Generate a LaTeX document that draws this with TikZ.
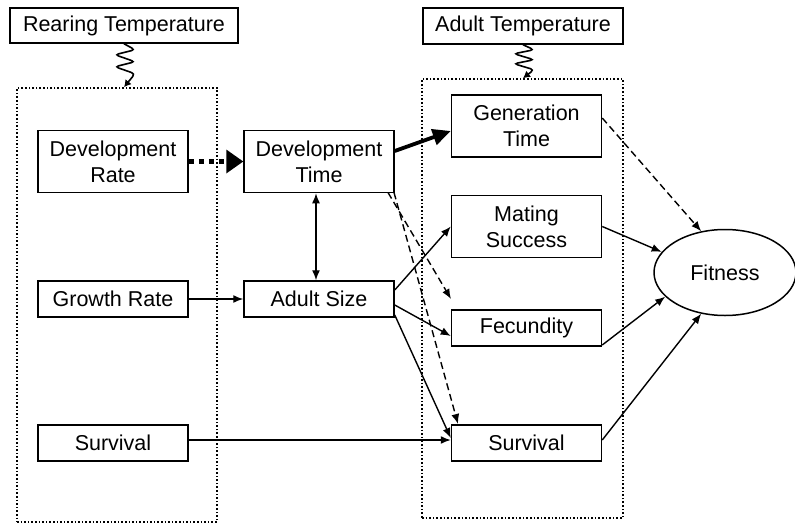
\documentclass[tikz,border=0pt]{standalone}
\usepackage{fontspec}
\setmainfont{Liberation Sans}
\usetikzlibrary{arrows.meta,shapes.geometric}
\begin{document}
\begin{tikzpicture}[x=1pt,y=-1pt,
  box/.style={draw,line width=1.5pt,minimum width=150pt,align=center,inner sep=0pt,
    font=\fontsize{21.5}{26}\selectfont},
  tbox/.style={box,minimum height=62pt},
  sbox/.style={box,minimum height=36pt},
  region/.style={draw,dotted,line width=1.6pt},
  arr/.style={-{Latex[length=10pt,width=8pt]},line width=1.4pt},
  darr/.style={arr,dash pattern=on 7pt off 4pt},
  coil/.style={-{Latex[length=7pt,width=8pt]},line width=1.6pt,rounded corners=3.5pt}]
\useasboundingbox (0,0) rectangle (795,525);
% regions
\node[region,minimum width=200pt,minimum height=434pt,inner sep=0pt] (L) at (117,305) {};
\node[region,minimum width=201pt,minimum height=439pt,inner sep=0pt] (R) at (522.5,298.5) {};
% temperatures
\node[box,minimum width=228pt,minimum height=35pt] (RT) at (124,25.5) {Rearing Temperature};
\node[box,minimum width=200pt,minimum height=36pt] (AT) at (523,26) {Adult Temperature};
\draw[coil] (RT.south) -- ++(11,6) -- ++(-20,5) -- ++(20,7) -- ++(-20,5) -- ++(20,7) -- (RT.south |- L.north);
\draw[coil] (AT.south) -- ++(11,5) -- ++(-20,4) -- ++(20,6) -- ++(-20,4) -- ++(20,6) -- (AT.south |- R.north);
% nodes
\node[tbox] (DR) at (113,161.5) {Development\\Rate};
\node[tbox] (DT) at (319,161.5) {Development\\Time};
\node[tbox] (GT) at (526.5,126) {Generation\\Time};
\node[tbox] (MS) at (526.5,226.5) {Mating\\Success};
\node[sbox] (GR) at (113,299) {Growth Rate};
\node[sbox] (AS) at (319,299) {Adult Size};
\node[sbox] (FE) at (526.5,328) {Fecundity};
\node[sbox] (SL) at (113,443) {Survival};
\node[sbox] (SR) at (526.5,443) {Survival};
\node[draw,ellipse,line width=1.5pt,minimum width=142pt,minimum height=86pt,inner sep=0pt,
  font=\fontsize{21.5}{26}\selectfont] (FI) at (725,272.5) {Fitness};
% coordinates
\coordinate (dtL) at (388,192.5);
\coordinate (dtR) at (394,192.5);
\coordinate (feA) at (451,299);
\coordinate (srA) at (458,424);
\coordinate (vx) at (316,0);
% arrows
\draw[line width=4.5pt,dash pattern=on 5pt off 5pt,-{Triangle[length=17pt,width=24pt,line width=0pt]}] (DR.east) -- (DT.west);
\draw[line width=3.8pt,-{Triangle[length=18pt,width=16pt]}] (DT.east |- 0,151) -- (GT.west |- 0,131);
\draw[{Latex[length=10pt,width=8pt]}-{Latex[length=10pt,width=8pt]},line width=1.4pt] (vx |- DT.south) -- (vx |- AS.north);
\draw[darr] (dtL) -- (feA);
\draw[darr] (dtR) -- (srA);
\draw[arr] (GR.east) -- (AS.west);
\draw[arr] (SL.east |- 0,440) -- (SR.west |- 0,440);
\draw[arr] (AS.east |- 0,290) -- (MS.west);
\draw[arr] (AS.east |- 0,305) -- (FE.west |- 0,336);
\draw[arr] (AS.east |- 0,315) -- (SR.west |- 0,438);
\draw[darr] (GT.east |- 0,118) -- (FI.120);
\draw[arr] (MS.east) -- (FI.162);
\draw[arr] (FE.east |- 0,345) -- (FI.202);
\draw[arr] (SR.east |- 0,440) -- (FI.240);
\end{tikzpicture}
\end{document}
